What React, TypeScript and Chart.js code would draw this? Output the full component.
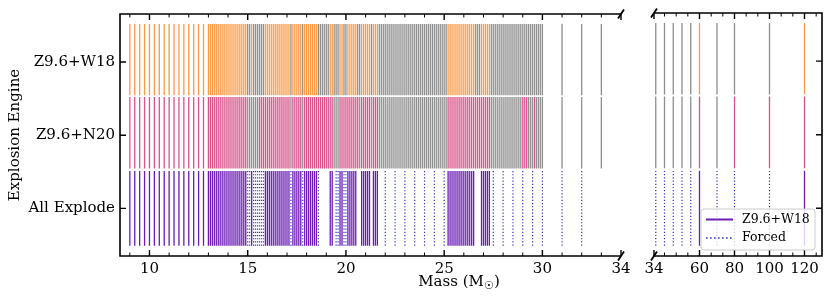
import React, { useEffect, useRef } from "react";
import { Chart, registerables } from "chart.js";

Chart.register(...registerables);

// ---------------- DATA ----------------
// progenitor masses (M_sun)
const MASSES_LOW = [9, 9.25, 9.5, 9.75, 10, 10.25, 10.5, 10.75, 11, 11.25, 11.5, 11.75, 12, 12.25, 12.5, 12.75];
const MASSES_MID = [
  13.0, 13.1, 13.2, 13.3, 13.4, 13.5, 13.6, 13.7, 13.8, 13.9,
  14.0, 14.1, 14.2, 14.3, 14.4, 14.5, 14.6, 14.7, 14.8, 14.9,
  15.0, 15.1, 15.2, 15.3, 15.4, 15.5, 15.6, 15.7, 15.8, 15.9,
  16.0, 16.1, 16.2, 16.3, 16.4, 16.5, 16.6, 16.7, 16.8, 16.9,
  17.0, 17.1, 17.2, 17.3, 17.4, 17.5, 17.6, 17.7, 17.8, 17.9,
  18.0, 18.1, 18.2, 18.3, 18.4, 18.5, 18.6, 18.7, 18.8, 18.9,
  19.0, 19.1, 19.2, 19.3, 19.4, 19.5, 19.6, 19.7, 19.8, 19.9,
  20.0, 20.1, 20.2, 20.3, 20.4, 20.5, 20.6, 20.7, 20.8, 20.9,
  21.0, 21.1, 21.2, 21.3, 21.4, 21.5, 21.6, 21.7, 21.8, 21.9,
  22.0, 22.1, 22.2, 22.3, 22.4, 22.5, 22.6, 22.7, 22.8, 22.9,
  23.0, 23.1, 23.2, 23.3, 23.4, 23.5, 23.6, 23.7, 23.8, 23.9,
  24.0, 24.1, 24.2, 24.3, 24.4, 24.5, 24.6, 24.7, 24.8, 24.9,
  25.0, 25.1, 25.2, 25.3, 25.4, 25.5, 25.6, 25.7, 25.8, 25.9,
  26.0, 26.1, 26.2, 26.3, 26.4, 26.5, 26.6, 26.7, 26.8, 26.9,
  27.0, 27.1, 27.2, 27.3, 27.4, 27.5, 27.6, 27.7, 27.8, 27.9,
  28.0, 28.1, 28.2, 28.3, 28.4, 28.5, 28.6, 28.7, 28.8, 28.9,
  29.0, 29.1, 29.2, 29.3, 29.4, 29.5, 29.6, 29.7, 29.8, 29.9,
  30.0,
];
const MASSES_HIGH = [31, 32, 33, 35, 40, 45, 50, 55, 60, 70, 80, 100, 120];

// outcome flags (1 = explodes, 0 = black hole), same order as the mass lists
const W18_LOW = [1, 1, 1, 1, 1, 1, 1, 1, 1, 1, 1, 1, 1, 1, 1, 1];
const W18_MID = [
  1, 1, 1, 1, 1, 1, 1, 1, 1, 1,
  1, 1, 1, 1, 1, 1, 1, 1, 1, 1,
  0, 0, 1, 0, 0, 0, 0, 0, 0, 1,
  1, 1, 1, 1, 1, 1, 1, 1, 1, 1,
  1, 1, 0, 1, 1, 1, 1, 1, 0, 1,
  1, 1, 1, 1, 1, 1, 0, 0, 0, 0,
  0, 0, 1, 1, 0, 0, 0, 1, 1, 0,
  0, 1, 1, 1, 1, 1, 0, 0, 1, 1,
  1, 1, 1, 0, 1, 1, 1, 0, 0, 0,
  0, 0, 0, 0, 0, 0, 0, 0, 0, 0,
  0, 0, 0, 0, 0, 0, 0, 0, 0, 0,
  0, 0, 0, 0, 0, 0, 0, 0, 0, 0,
  0, 0, 1, 1, 1, 1, 1, 1, 1, 1,
  1, 1, 1, 1, 1, 1, 0, 0, 0, 1,
  1, 1, 1, 1, 0, 0, 0, 0, 0, 0,
  0, 0, 0, 0, 0, 0, 0, 0, 0, 0,
  0, 0, 0, 0, 0, 0, 0, 0, 0, 0,
  0,
];
const W18_HIGH = [0, 0, 0, 0, 0, 0, 0, 0, 1, 0, 0, 0, 1];

const N20_LOW = [1, 1, 1, 1, 1, 1, 1, 1, 1, 1, 1, 1, 1, 1, 1, 1];
const N20_MID = [
  1, 1, 1, 1, 1, 1, 1, 1, 1, 1,
  1, 1, 1, 1, 1, 1, 1, 1, 1, 1,
  0, 0, 0, 0, 0, 0, 1, 1, 1, 1,
  1, 1, 1, 1, 1, 1, 1, 1, 1, 1,
  1, 1, 0, 1, 1, 1, 1, 1, 0, 1,
  1, 1, 1, 1, 1, 1, 1, 1, 1, 1,
  1, 1, 1, 1, 0, 0, 0, 1, 1, 1,
  1, 1, 1, 1, 1, 1, 1, 0, 1, 1,
  1, 1, 1, 0, 1, 1, 1, 0, 0, 0,
  0, 0, 0, 0, 0, 0, 0, 0, 0, 0,
  0, 0, 0, 0, 0, 0, 0, 0, 0, 0,
  0, 0, 0, 0, 0, 0, 0, 0, 0, 0,
  0, 0, 1, 1, 1, 1, 1, 1, 1, 1,
  1, 1, 1, 1, 1, 1, 1, 1, 1, 1,
  1, 1, 1, 1, 0, 0, 0, 0, 0, 0,
  0, 0, 0, 0, 0, 0, 0, 0, 0, 0,
  1, 1, 1, 0, 0, 0, 1, 0, 0, 0,
  0,
];
const N20_HIGH = [0, 0, 0, 0, 0, 0, 0, 0, 1, 0, 1, 1, 1];

// failed W18 models that were forced to explode
const FORCED = [
  15.0, 15.1, 15.3, 15.4, 15.5, 15.6, 15.7, 15.8, 17.2, 17.8, 18.6, 19.5, 19.6, 19.9, 20.0,
  22.0, 22.5, 23.0, 23.5, 24.0, 24.5, 25.0, 27.5, 28.0, 28.5, 29.0, 29.5, 30.0, 31, 32,
  35, 40, 45, 50, 55, 70, 80, 100,
];

const ROW_LABELS = ["All Explode", "Z9.6+N20", "Z9.6+W18"];
const LEFT_TICKS = [10, 15, 20, 25, 30, 34];
const LEFT_MINOR = [9, 11, 12, 13, 14, 16, 17, 18, 19, 21, 22, 23, 24, 26, 27, 28, 29, 31, 32, 33];
const RIGHT_TICKS = [34, 60, 80, 100, 120];
const RIGHT_MINOR = [40, 46.67, 53.33, 66.67, 73.33, 86.67, 93.33, 106.67, 113.33, 126.67];
const X_TITLE = "Mass (M";
const X_TITLE_SUB = "\u2609";
const Y_TITLE = "Explosion Engine";
const LEGEND_LABELS = ["Z9.6+W18", "Forced"];

// ---------------- STYLE ----------------
const FONT = "'DejaVu Serif', serif";
const C_W18 = "#fb9a45";
const C_N20 = "#d9528a";
const C_FAIL = "#8e8e8e";
const C_SOLID = "#6b1cb6";
const C_FORCED = "#2f2fc6";
const LW = 1.3;
const ROW_SPAN: Record<string, [number, number]> = {
  w18: [1.545, 2.52],
  n20: [0.545, 1.52],
  all: [-0.51, 0.51],
};
const Y_MIN = -0.65;
const Y_MAX = 2.655;

const ALL_MASSES = [...MASSES_LOW, ...MASSES_MID, ...MASSES_HIGH];
const ALL_W18 = [...W18_LOW, ...W18_MID, ...W18_HIGH];
const ALL_N20 = [...N20_LOW, ...N20_MID, ...N20_HIGH];

function segs(ms: number[], span: [number, number]) {
  const pts: any[] = [];
  for (const m of ms) {
    pts.push({ x: m, y: span[0] }, { x: m, y: span[1] }, { x: m, y: null });
  }
  return pts;
}

function buildDatasets(xmin: number, xmax: number) {
  const inP = (m: number) => m >= xmin - 1e-6 && m <= xmax + 1e-6;
  const w18E: number[] = [], w18F: number[] = [], n20E: number[] = [], n20F: number[] = [], solid: number[] = [];
  ALL_MASSES.forEach((m, i) => {
    if (!inP(m)) return;
    (ALL_W18[i] ? w18E : w18F).push(m);
    (ALL_N20[i] ? n20E : n20F).push(m);
    if (ALL_W18[i]) solid.push(m);
  });
  const forced = FORCED.filter(inP);
  const mk = (data: any[], color: string, width: number, dash: number[] = []) => ({
    data,
    borderColor: color,
    backgroundColor: color,
    borderWidth: width,
    borderDash: dash,
    borderCapStyle: "butt",
    showLine: true,
    pointRadius: 0,
    pointHoverRadius: 0,
    spanGaps: false,
    fill: false,
    tension: 0,
  });
  return [
    mk(segs(w18E, ROW_SPAN.w18), C_W18, LW),
    mk(segs(w18F, ROW_SPAN.w18), C_FAIL, LW),
    mk(segs(n20E, ROW_SPAN.n20), C_N20, LW),
    mk(segs(n20F, ROW_SPAN.n20), C_FAIL, LW),
    mk(segs(solid, ROW_SPAN.all), C_SOLID, LW),
    mk(segs(forced, ROW_SPAN.all), C_FORCED, 1.2, [1.2, 2.0]),
  ];
}

const framePlugin = {
  id: "frame",
  afterDraw(chart: any, _args: any, opts: any) {
    const { ctx, chartArea: a, scales } = chart;
    const x = scales.x;
    const y = scales.y;
    ctx.save();
    ctx.strokeStyle = "#000";
    ctx.lineCap = "butt";
    ctx.lineWidth = 1.6;
    ctx.beginPath();
    ctx.moveTo(a.left, a.top);
    ctx.lineTo(a.right, a.top);
    ctx.moveTo(a.left, a.bottom);
    ctx.lineTo(a.right, a.bottom);
    const sx = opts.side === "left" ? a.left : a.right;
    ctx.moveTo(sx, a.top - 0.8);
    ctx.lineTo(sx, a.bottom + 0.8);
    ctx.stroke();
    ctx.lineWidth = 1.4;
    ctx.beginPath();
    for (const v of opts.majors) {
      const px = x.getPixelForValue(v);
      ctx.moveTo(px, a.top);
      ctx.lineTo(px, a.top + 6);
      ctx.moveTo(px, a.bottom);
      ctx.lineTo(px, a.bottom - 6);
    }
    const dir = opts.side === "left" ? 1 : -1;
    for (const v of [0, 1, 2]) {
      const py = y.getPixelForValue(v);
      ctx.moveTo(sx, py);
      ctx.lineTo(sx + dir * 6, py);
    }
    ctx.stroke();
    ctx.lineWidth = 1;
    ctx.beginPath();
    for (const v of opts.minors) {
      const px = x.getPixelForValue(v);
      ctx.moveTo(px, a.top);
      ctx.lineTo(px, a.top + 3.5);
      ctx.moveTo(px, a.bottom);
      ctx.lineTo(px, a.bottom - 3.5);
    }
    ctx.stroke();
    const bx = opts.side === "left" ? a.right : a.left;
    ctx.lineWidth = 1.8;
    ctx.beginPath();
    for (const by of [a.top, a.bottom]) {
      ctx.moveTo(bx - 3, by + 4.5);
      ctx.lineTo(bx + 3, by - 4.5);
    }
    ctx.stroke();
    ctx.restore();
  },
};

const titlesPlugin = {
  id: "titles",
  afterDraw(chart: any) {
    const { ctx, chartArea: a } = chart;
    ctx.save();
    ctx.fillStyle = "#000";
    ctx.font = `15px ${FONT}`;
    ctx.textAlign = "center";
    ctx.textBaseline = "middle";
    ctx.translate(15, (a.top + a.bottom) / 2);
    ctx.rotate(-Math.PI / 2);
    ctx.fillText(Y_TITLE, 0, 0);
    ctx.restore();
    ctx.save();
    ctx.fillStyle = "#000";
    ctx.textBaseline = "alphabetic";
    ctx.textAlign = "left";
    const big = `15px ${FONT}`;
    const small = `10.5px ${FONT}`;
    ctx.font = big;
    const w1 = ctx.measureText(X_TITLE).width;
    const w3 = ctx.measureText(")").width;
    ctx.font = small;
    const w2 = ctx.measureText(X_TITLE_SUB).width;
    const total = w1 + w2 + w3;
    const cx = 459;
    const base = a.bottom + 30;
    let xx = cx - total / 2;
    ctx.font = big;
    ctx.fillText(X_TITLE, xx, base);
    xx += w1;
    ctx.font = small;
    ctx.fillText(X_TITLE_SUB, xx, base + 3);
    xx += w2;
    ctx.font = big;
    ctx.fillText(")", xx, base);
    ctx.restore();
  },
};

const legendPlugin = {
  id: "legendBox",
  afterDraw(chart: any) {
    const { ctx, chartArea: a } = chart;
    const w = 114;
    const h = 41;
    const x0 = a.right - 121;
    const y0 = a.bottom - 47;
    ctx.save();
    ctx.beginPath();
    const r = 3;
    ctx.moveTo(x0 + r, y0);
    ctx.lineTo(x0 + w - r, y0);
    ctx.arcTo(x0 + w, y0, x0 + w, y0 + r, r);
    ctx.lineTo(x0 + w, y0 + h - r);
    ctx.arcTo(x0 + w, y0 + h, x0 + w - r, y0 + h, r);
    ctx.lineTo(x0 + r, y0 + h);
    ctx.arcTo(x0, y0 + h, x0, y0 + h - r, r);
    ctx.lineTo(x0, y0 + r);
    ctx.arcTo(x0, y0, x0 + r, y0, r);
    ctx.closePath();
    ctx.fillStyle = "rgba(255,255,255,0.8)";
    ctx.fill();
    ctx.strokeStyle = "#cccccc";
    ctx.lineWidth = 1;
    ctx.stroke();
    const ys = [y0 + 10.5, y0 + 29];
    ctx.lineWidth = 2;
    ctx.strokeStyle = C_SOLID;
    ctx.setLineDash([]);
    ctx.beginPath();
    ctx.moveTo(x0 + 5, ys[0]);
    ctx.lineTo(x0 + 32, ys[0]);
    ctx.stroke();
    ctx.lineWidth = 1.6;
    ctx.strokeStyle = C_FORCED;
    ctx.setLineDash([1.6, 2.4]);
    ctx.beginPath();
    ctx.moveTo(x0 + 5, ys[1]);
    ctx.lineTo(x0 + 32, ys[1]);
    ctx.stroke();
    ctx.setLineDash([]);
    ctx.fillStyle = "#000";
    ctx.font = `12.5px ${FONT}`;
    ctx.textBaseline = "middle";
    ctx.textAlign = "left";
    ctx.fillText(LEGEND_LABELS[0], x0 + 41, ys[0]);
    ctx.fillText(LEGEND_LABELS[1], x0 + 41, ys[1]);
    ctx.restore();
  },
};

function makeConfig(panel: "left" | "right") {
  const isLeft = panel === "left";
  const xmin = isLeft ? 8.5 : 34;
  const xmax = isLeft ? 34 : 130;
  const majors = isLeft ? LEFT_TICKS : RIGHT_TICKS;
  const minors = isLeft ? LEFT_MINOR : RIGHT_MINOR;
  return {
    type: "scatter",
    data: { datasets: buildDatasets(xmin, xmax) },
    plugins: isLeft ? [framePlugin, titlesPlugin] : [framePlugin, legendPlugin],
    options: {
      responsive: false,
      animation: false,
      events: [],
      layout: {
        padding: isLeft
          ? { left: 0, top: 13, right: 209, bottom: 0 }
          : { left: 654, top: 13, right: 8, bottom: 0 },
      },
      plugins: {
        legend: { display: false },
        tooltip: { enabled: false },
        frame: { side: isLeft ? "left" : "right", majors, minors },
      },
      scales: {
        x: {
          type: "linear",
          min: xmin,
          max: xmax,
          position: "bottom",
          grid: { display: false, drawTicks: false },
          border: { display: false },
          afterBuildTicks: (s: any) => {
            s.ticks = majors.map((v) => ({ value: v }));
          },
          afterFit: (s: any) => {
            s.height = 45;
          },
          ticks: {
            autoSkip: false,
            maxRotation: 0,
            padding: 4,
            color: "#000",
            font: { family: FONT, size: 15 },
            callback: (v: any) => String(v),
          },
        },
        y: {
          type: "linear",
          min: Y_MIN,
          max: Y_MAX,
          display: isLeft,
          position: "left",
          grid: { display: false, drawTicks: false },
          border: { display: false },
          afterBuildTicks: (s: any) => {
            s.ticks = [0, 1, 2].map((v) => ({ value: v }));
          },
          afterFit: (s: any) => {
            s.width = isLeft ? 120 : 0;
          },
          ticks: {
            autoSkip: false,
            padding: 5,
            color: "#000",
            font: { family: FONT, size: 15 },
            callback: (v: any) => ROW_LABELS[Math.round(v)] ?? "",
          },
        },
      },
    },
  };
}

export default function App() {
  const leftRef = useRef<HTMLCanvasElement>(null);
  const rightRef = useRef<HTMLCanvasElement>(null);
  useEffect(() => {
    const c1 = new Chart(leftRef.current as HTMLCanvasElement, makeConfig("left") as any);
    const c2 = new Chart(rightRef.current as HTMLCanvasElement, makeConfig("right") as any);
    return () => {
      c1.destroy();
      c2.destroy();
    };
  }, []);
  const cs: React.CSSProperties = { position: "absolute", left: 0, top: 0, width: 830, height: 301 };
  return (
    <div style={{ position: "fixed", left: 0, top: 0, width: 830, height: 301, background: "#fff" }}>
      <canvas ref={leftRef} width={830} height={301} style={cs} />
      <canvas ref={rightRef} width={830} height={301} style={cs} />
    </div>
  );
}
